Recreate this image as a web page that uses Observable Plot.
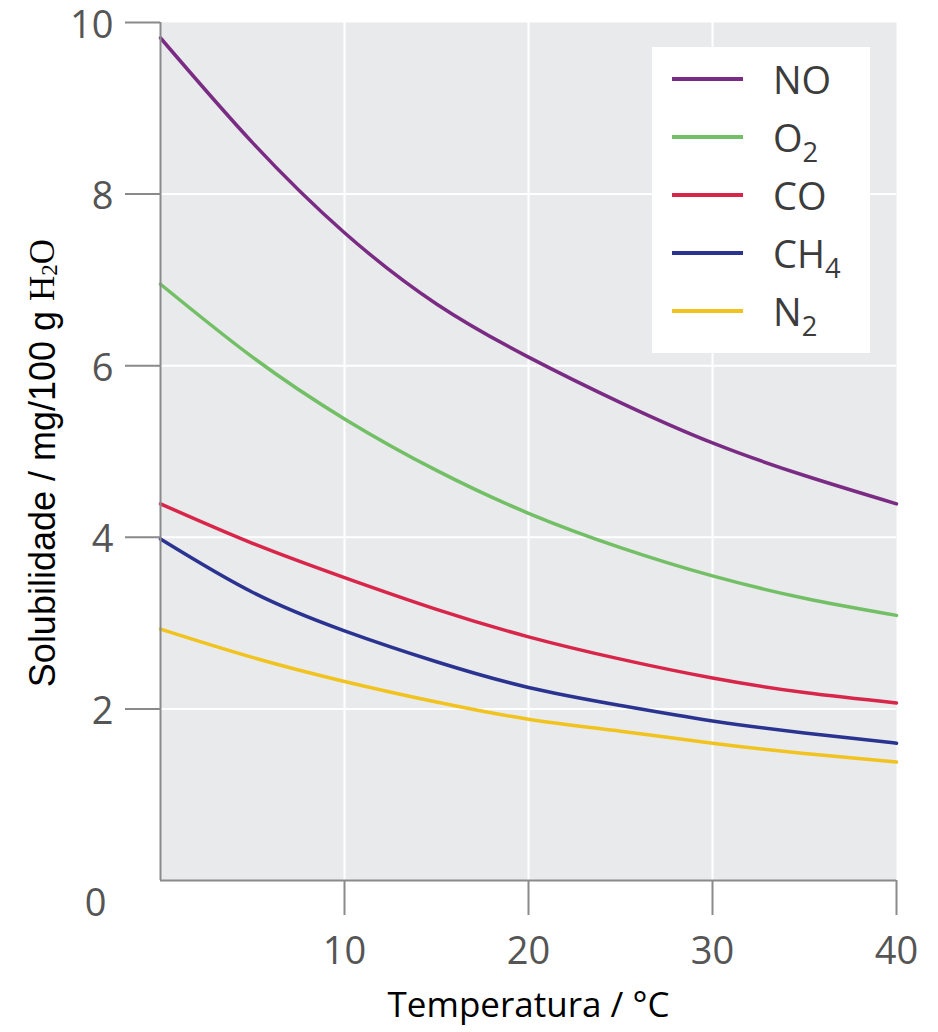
<!DOCTYPE html>
<html><head><meta charset="utf-8">
<script src="https://cdn.jsdelivr.net/npm/d3@7"></script>
<script src="https://cdn.jsdelivr.net/npm/@observablehq/plot@0.6"></script>
<style>
body{margin:0;background:#fff;}
#wrap{position:relative;width:938px;height:1032px;}
#legend{position:absolute;left:652px;top:47px;width:218px;height:306px;background:#fff;font-family:"Open Sans",sans-serif;font-size:38px;color:#3c3c3c;padding-top:3px;box-sizing:border-box;}
.row{display:flex;align-items:center;height:58px;}
.sw{width:71px;height:4px;margin-left:20px;margin-right:30px;flex:none;}
.lab{line-height:1;}
.lab sub{font-size:0.72em;vertical-align:-0.35em;line-height:0;}
</style></head><body><div id="wrap"><div id="chart"></div><div id="legend"></div></div>
<script>
const temperatures = [0, 5, 10, 15, 20, 25, 30, 35, 40];
const gases = ["NO", "O2", "CO", "CH4", "N2"];
const gasMain = ["NO", "O", "CO", "CH", "N"];
const gasSub = ["", "2", "", "4", "2"];
const colors = ["#7a2c84", "#72bf66", "#d8264a", "#2b3390", "#f1c31f"];
const NO  = [9.82, 8.60, 7.55, 6.72, 6.10, 5.57, 5.10, 4.72, 4.39];
const O2  = [6.95, 6.10, 5.38, 4.78, 4.28, 3.88, 3.55, 3.29, 3.09];
const CO  = [4.39, 3.93, 3.53, 3.16, 2.84, 2.58, 2.36, 2.19, 2.07];
const CH4 = [3.98, 3.36, 2.91, 2.55, 2.25, 2.04, 1.86, 1.72, 1.60];
const N2  = [2.93, 2.60, 2.32, 2.08, 1.88, 1.74, 1.60, 1.48, 1.38];
const yTicks = [2, 4, 6, 8, 10];
const xTicks = [10, 20, 30, 40];
const gridX = [10, 20, 30];
const gridY = [2, 4, 6, 8];
const xTitle = "Temperatura / °C";
const yTitleMain = "Solubilidade / mg/100 g ";

const seriesValues = [NO, O2, CO, CH4, N2];
const data = gases.flatMap((g, i) => temperatures.map((t, j) => ({gas: g, t, v: seriesValues[i][j]})));

const axisColor = "#8a8a8a";
const chart = Plot.plot({
  width: 938, height: 1032,
  marginLeft: 160, marginRight: 42, marginTop: 22, marginBottom: 152,
  style: {fontFamily: "'Open Sans', sans-serif", background: "transparent"},
  x: {domain: [0, 40], axis: null},
  y: {domain: [0, 10], axis: null},
  color: {domain: gases, range: colors},
  marks: [
    Plot.frame({fill: "#e9eaec", stroke: null}),
    Plot.ruleX(gridX, {stroke: "#fff", strokeWidth: 2}),
    Plot.ruleY(gridY, {stroke: "#fff", strokeWidth: 2}),
    Plot.line(data, {x: "t", y: "v", z: "gas", stroke: "gas", strokeWidth: 3.5, curve: "natural"}),
    Plot.ruleX([0], {stroke: axisColor, strokeWidth: 2}),
    Plot.ruleY([0], {stroke: axisColor, strokeWidth: 2}),
    Plot.axisY(yTicks, {tickSize: 35, tickFormat: () => "", stroke: axisColor, strokeWidth: 2, label: null}),
    Plot.axisY(yTicks, {tickSize: 0, tickPadding: 47, fontSize: 38, dy: 3, tickFormat: d3.format("d"), fill: "#555", label: null}),
    Plot.axisX(xTicks, {tickSize: 35, tickPadding: 22, fontSize: 38, tickFormat: d3.format("d"), stroke: axisColor, strokeWidth: 2, fill: "#555", label: null}),
    Plot.text(["0"], {x: () => 0, y: () => 0, text: d => d, dx: -65, dy: 23, fontSize: 38, fill: "#555"}),
    Plot.text([xTitle], {frameAnchor: "bottom", text: d => d, dy: 136, fontSize: 35, fill: "#000"})
  ]
});
document.getElementById("chart").appendChild(chart);

// y-axis title with mixed fonts
const svg = d3.select(chart);
const yt = svg.append("text")
  .attr("transform", "translate(42,463) rotate(-90)")
  .attr("text-anchor", "middle")
  .attr("dominant-baseline", "central")
  .attr("fill", "#000");
yt.append("tspan").attr("font-family", "'Liberation Sans', Arial, sans-serif").attr("font-size", 36).text(yTitleMain);
yt.append("tspan").attr("font-family", "'Liberation Serif', 'DejaVu Serif', serif").attr("font-size", 35).text("H");
yt.append("tspan").attr("font-family", "'Liberation Serif', 'DejaVu Serif', serif").attr("font-size", 23).attr("dy", 7).text("2");
yt.append("tspan").attr("font-family", "'Liberation Serif', 'DejaVu Serif', serif").attr("font-size", 35).attr("dy", -7).text("O");

// legend
const legend = d3.select("#legend");
gases.forEach((g, i) => {
  const row = legend.append("div").attr("class", "row");
  row.append("div").attr("class", "sw").style("background", colors[i]);
  const lab = row.append("div").attr("class", "lab");
  lab.append("span").text(gasMain[i]);
  if (gasSub[i]) lab.append("sub").text(gasSub[i]);
});
</script></body></html>
